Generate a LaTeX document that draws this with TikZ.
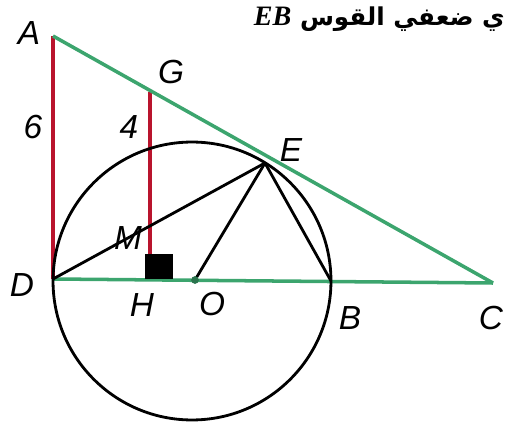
\documentclass[tikz,border=0pt]{standalone}
\usepackage{fontspec}
\setmainfont{Liberation Sans}
\newfontfamily\arabicfont[Script=Arabic]{DejaVu Sans}
\newfontfamily\serifit{Liberation Serif}
\TeXXeTstate=1
\definecolor{geogreen}{RGB}{60,165,110}
\definecolor{geored}{RGB}{185,20,45}
\tikzset{
  greenline/.style={draw=geogreen, line width=2.0pt},
  redline/.style={draw=geored, line width=2.4pt},
  blackline/.style={draw=black, line width=1.6pt},
  lbl/.style={font=\fontsize{19}{21}\selectfont\itshape, inner sep=0pt},
}
\begin{document}
\begin{tikzpicture}[x=0.02cm, y=-0.02cm]
\useasboundingbox (0,0) rectangle (507,429);
% points
\coordinate (A) at (53,36);
\coordinate (D) at (53,279);
\coordinate (C) at (493,283);
\coordinate (G) at (150,92);
\coordinate (H) at (150,279);
\coordinate (Hs) at (150,262);
\coordinate (E) at (265,163);
\coordinate (O) at (195,280);
\coordinate (B) at (331,281);
\coordinate (Ctr) at (192,281);
% red segments
\draw[redline] (A) -- (D);
\draw[redline] (G) -- (Hs);
% green lines
\draw[greenline] (A) -- (C);
\draw[greenline] (D) -- (C);
% circle
\draw[blackline] (Ctr) circle [radius=2.78cm];
% chords
\draw[blackline] (D) -- (E);
\draw[blackline] (O) -- (E);
\draw[blackline] (E) -- (B);
% right angle mark
\fill[black] (145,254) rectangle (173,279);
\fill[geogreen!70!black] (O) circle [radius=2.2pt];
% labels
\node[lbl] (lA) at (29,33) {A};
\node[lbl] (l6) at (33,127) {6};
\node[lbl] (lG) at (171,72) {G};
\node[lbl] (l4) at (129,127) {4};
\node[lbl] (lM) at (128,238) {M};
\node[lbl] (lE) at (291,150) {E};
\node[lbl] (lD) at (22,285) {D};
\node[lbl] (lH) at (142,305) {H};
\node[lbl] (lO) at (212,304) {O};
\node[lbl] (lB) at (350,318) {B};
\node[lbl] (lC) at (491,318) {C};
% top text
\node[anchor=east, inner sep=0pt] (title) at (505,19)
  {\fontsize{14}{16}\selectfont\arabicfont\bfseries\beginR ي ضعفي القوس \beginL{\fontsize{16}{18}\selectfont\serifit\itshape EB}\endL\endR};
\end{tikzpicture}
\end{document}
